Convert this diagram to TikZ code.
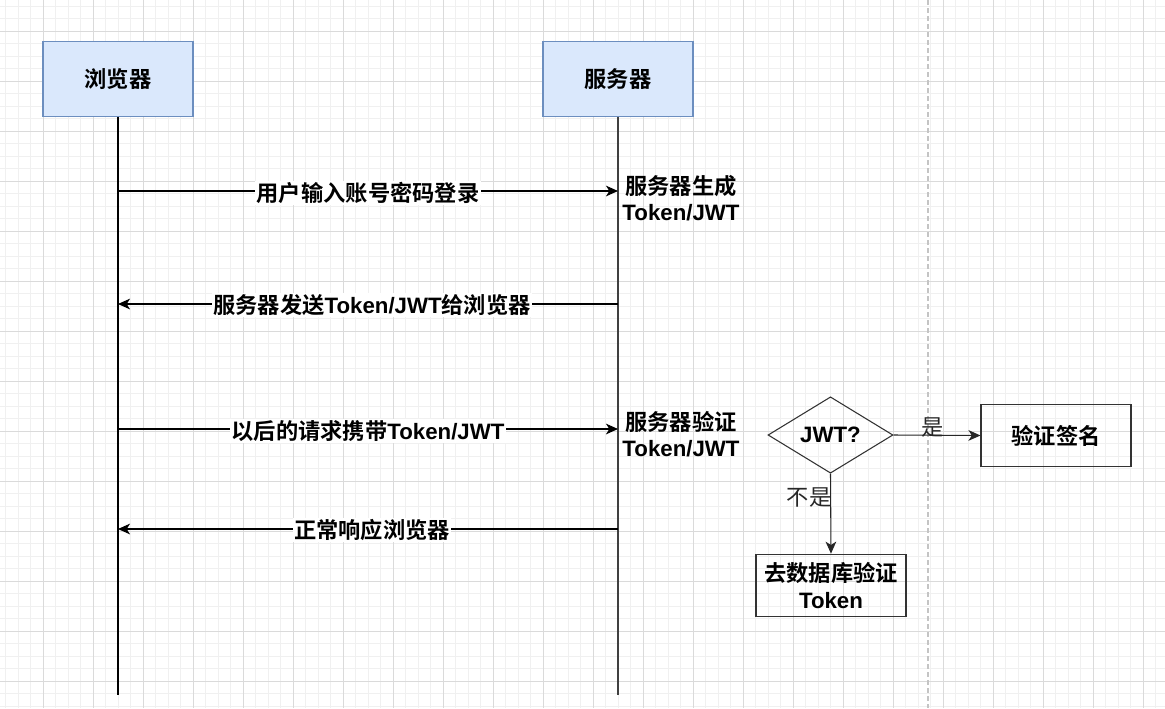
\documentclass[tikz,border=0pt]{standalone}
\usepackage{fontspec}
\setmainfont{Liberation Sans}
\newfontfamily\cjk{Noto Sans CJK SC}[BoldFont={Noto Sans CJK SC Bold}]
\newcommand{\zh}[1]{{\cjk #1}}
\newcommand{\lblfont}{\fontsize{16.7}{20}\selectfont}
\usetikzlibrary{arrows.meta,shapes.geometric,positioning}
\definecolor{actorfill}{HTML}{DAE8FC}
\definecolor{actordraw}{HTML}{6C8EBF}
\definecolor{gridminor}{HTML}{F0F0F0}
\definecolor{gridmajor}{HTML}{DADADA}
\definecolor{sepline}{HTML}{C4C4C4}
\tikzset{
  actor/.style={draw=actordraw, fill=actorfill, line width=0.9pt, minimum width=112.5pt, minimum height=56pt, font=\bfseries\lblfont},
  lifeline/.style={line width=0.9pt},
  msg/.style={line width=0.8pt, -{Stealth[length=9pt,width=8pt,inset=2.5pt]}},
  msglabel/.style={fill=white, inner sep=1pt, font=\bfseries\lblfont},
  note/.style={align=center, inner sep=0pt, font=\bfseries\lblfont},
  decision/.style={diamond, draw=black!80, line width=0.8pt, minimum width=93.75pt, minimum height=54pt, inner sep=0pt, font=\bfseries\lblfont},
  stepbox/.style={draw=black!80, line width=0.8pt, minimum width=112.5pt, minimum height=47pt, align=center, font=\bfseries\lblfont},
  choice/.style={font=\lblfont, inner sep=1pt}
}
\begin{document}
\begin{tikzpicture}[x=0.75pt, y=-0.75pt]
\useasboundingbox (0,0) rectangle (1165,708);
% background grid
\fill[white] (0,0) rectangle (1165,708);
\foreach \gx in {0,...,92} \draw[gridminor, line width=0.6pt] (5.5+12.5*\gx,0) -- (5.5+12.5*\gx,708);
\foreach \gy in {0,...,56} \draw[gridminor, line width=0.6pt] (0,6+12.5*\gy) -- (1165,6+12.5*\gy);
\foreach \gx in {0,...,23} \draw[gridmajor, line width=0.6pt] (43+50*\gx,0) -- (43+50*\gx,708);
\foreach \gy in {0,...,14} \draw[gridmajor, line width=0.6pt] (0,31+50*\gy) -- (1165,31+50*\gy);
\draw[sepline, line width=0.8pt, dash pattern=on 3.75pt off 2.25pt] (928,0) -- (928,708);

% actors and lifelines
\node[actor] (browser) at (118,79) {\zh{浏览器}};
\node[actor] (server) at (618,79) {\zh{服务器}};
\coordinate (browserEnd) at (118,695);
\coordinate (serverEnd) at (618,695);
\draw[lifeline] (browser.south) -- (browserEnd);
\draw[lifeline, black!75] (server.south) -- (serverEnd);

% messages
\coordinate (b1) at (118,191); \coordinate (s1) at (618,191);
\coordinate (b2) at (118,304); \coordinate (s2) at (618,304);
\coordinate (b3) at (118,429); \coordinate (s3) at (618,429);
\coordinate (b4) at (118,529); \coordinate (s4) at (618,529);
\draw[msg] (b1) -- node[msglabel, yshift=-1.5pt] {\zh{用户输入账号密码登录}} (s1);
\draw[msg] (s2) -- node[msglabel, yshift=-1pt, xshift=3pt] {\zh{服务器发送}Token/JWT\zh{给浏览器}} (b2);
\draw[msg] (b3) -- node[msglabel, yshift=-1.5pt] {\zh{以后的请求携带}Token/JWT} (s3);
\draw[msg] (s4) -- node[msglabel, yshift=-1pt, xshift=3pt] {\zh{正常响应浏览器}} (b4);

% server side notes
\node[note] (generate) at (681,198) {\zh{服务器生成}\\Token/JWT};
\node[note] (verify) at (681,434) {\zh{服务器验证}\\Token/JWT};

% token check
\node[decision] (isjwt) at (830.5,435) {JWT?};
\node[stepbox] (signature) at (1056,435.5) {\zh{验证签名}};
\node[stepbox] (database) at (831,585.5) {\zh{去数据库验证}\\Token};
\draw[msg, black!85] (isjwt.east) -- node[choice, above, pos=0.45, yshift=-3pt] {\zh{是}} (signature.west);
\draw[msg, black!85] (isjwt.south) -- node[choice, left, pos=0.3, xshift=2pt] {\zh{不是}} (database.north);
\end{tikzpicture}
\end{document}
